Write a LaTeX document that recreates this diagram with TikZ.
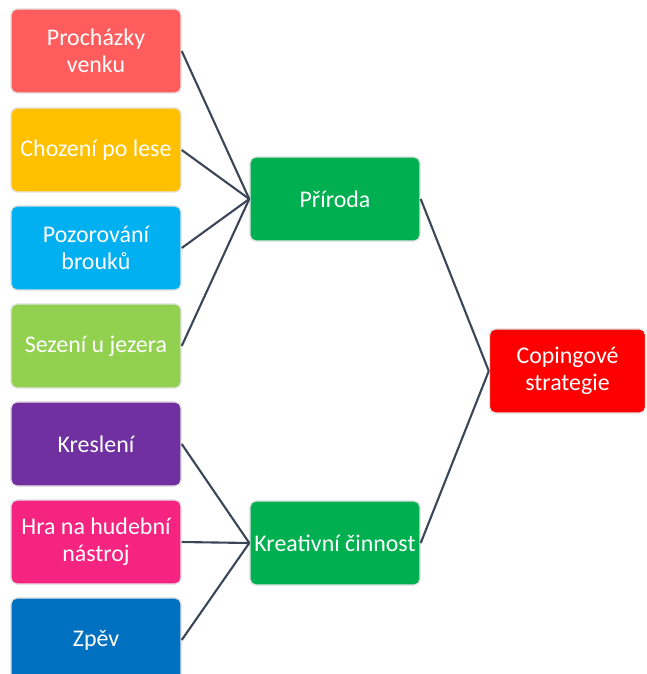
\documentclass[tikz,border=0pt]{standalone}
\usepackage{fontspec}
\setmainfont{Carlito}
\definecolor{coral}{HTML}{FF5D5D}
\definecolor{amber}{HTML}{FFC000}
\definecolor{sky}{HTML}{00B0F0}
\definecolor{lime}{HTML}{92D050}
\definecolor{plum}{HTML}{7030A0}
\definecolor{rose}{HTML}{F42480}
\definecolor{ocean}{HTML}{0070C0}
\definecolor{leaf}{HTML}{00B050}
\definecolor{signal}{HTML}{FF0000}
\definecolor{rim}{HTML}{E4E4E4}
\definecolor{slate}{HTML}{3B4658}
\begin{document}
\begin{tikzpicture}[x=0.025cm,y=-0.025cm,
    box/.style={draw=rim, line width=1pt, rounded corners=4pt, minimum width=4.25cm,
        minimum height=2.1cm, inner sep=1pt, align=center, text=white,
        font=\fontsize{17}{19.5}\selectfont},
    link/.style={draw=slate, line width=1.5pt}]
    \clip (0,0) rectangle (646,674);
    \node [box, fill=coral] (prochazky) at (96,51) {Procházky\\venku};
    \node [box, fill=amber] (chozeni) at (96,150) {Chození po lese};
    \node [box, fill=sky] (pozorovani) at (96,248) {Pozorování\\brouků};
    \node [box, fill=lime] (sezeni) at (96,346) {Sezení u jezera};
    \node [box, fill=plum] (kresleni) at (96,444) {Kreslení};
    \node [box, fill=rose] (hra) at (96,542) {Hra na hudební\\nástroj};
    \node [box, fill=ocean] (zpev) at (96,640) {Zpěv};
    \node [box, fill=leaf] (priroda) at (335,199) {Příroda};
    \node [box, fill=leaf] (kreativni) at (335,543) {Kreativní činnost};
    \node [box, fill=signal, minimum width=3.9cm] (coping) at (567.5,371) {Copingové\\strategie};
    \foreach \n in {prochazky,chozeni,pozorovani,sezeni}
        \draw [link] (\n.east) -- (priroda.west);
    \foreach \n in {kresleni,hra,zpev}
        \draw [link] (\n.east) -- (kreativni.west);
    \draw [link] (priroda.east) -- (coping.west);
    \draw [link] (kreativni.east) -- (coping.west);
\end{tikzpicture}
\end{document}
